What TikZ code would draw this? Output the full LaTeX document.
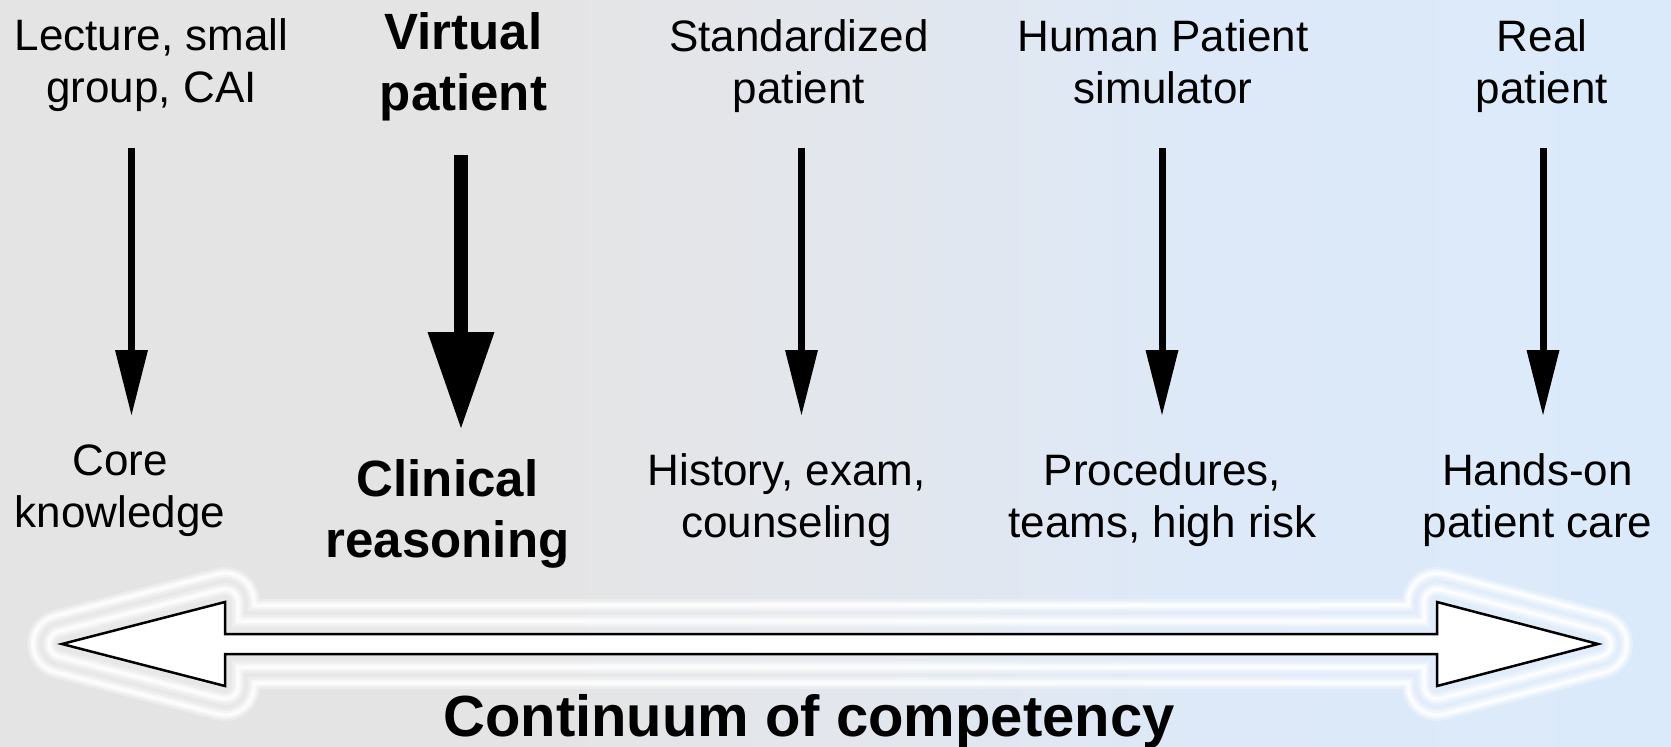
\documentclass[tikz,border=0pt]{standalone}
\usepackage{fontspec}
\setmainfont{Liberation Sans}
\usetikzlibrary{arrows.meta,calc}
\definecolor{bgL}{RGB}{228,228,228}
\definecolor{bgM}{RGB}{227,230,236}
\definecolor{bgN}{RGB}{221,233,248}
\definecolor{bgR}{RGB}{219,234,251}
% TikZ maps the range 25bp..75bp of a shading onto the filled path
\pgfdeclarehorizontalshading{bgshade}{100bp}{color(0bp)=(bgL); color(40bp)=(bgL); color(50bp)=(bgM); color(61bp)=(bgN); color(75bp)=(bgR); color(100bp)=(bgR)}
\newcommand\twolines[2]{\begin{tabular}[b]{@{}c@{}}#1\\#2\end{tabular}}
\tikzset{
  lab/.style={font=\fontsize{44}{52}\selectfont, anchor=base, inner sep=0pt},
  blab/.style={font=\fontsize{51}{61}\selectfont\bfseries, anchor=base, inner sep=0pt},
  thinarrow/.style={line width=7pt, -{Triangle[length=65pt,width=33pt,line width=0pt]}},
  thickarrow/.style={line width=14pt, -{Triangle[length=96pt,width=67pt,line width=0pt]}},
  ring/.style={insert path={
    (62,644) ++(255.55:#1) -- ($(225,602)+(255.55:#1)$)
    arc[start angle=255.55, end angle=360, radius=#1]
    -- (225+#1,634-#1) -- (1437-#1,634-#1) -- (1437-#1,602)
    arc[start angle=180, end angle=284.62, radius=#1]
    -- ($(1598,644)+(284.62:#1)$)
    arc[start angle=284.62, end angle=435.38, radius=#1]
    -- ($(1437,686)+(75.38:#1)$)
    arc[start angle=75.38, end angle=180, radius=#1]
    -- (1437-#1,654+#1) -- (225+#1,654+#1) -- (225+#1,686)
    arc[start angle=0, end angle=104.45, radius=#1]
    -- ($(62,644)+(104.45:#1)$)
    arc[start angle=104.45, end angle=255.55, radius=#1] -- cycle}},
  glowA/.style={draw=white, line width=12pt, opacity=0.3},
  glowB/.style={draw=white, line width=7pt, opacity=0.5},
  glowC/.style={draw=white, line width=3pt, opacity=0.75},
  bigarrow/.style={draw=black, line width=2.5pt, fill=white, line join=miter}
}
\begin{document}
\begin{tikzpicture}[x=1pt,y=-1pt]
\useasboundingbox (0,0) rectangle (1671,747);
\shade[shading=bgshade] (0,0) rectangle (1671,747);
% glow around the continuum arrow
\fill[white, opacity=0.18, ring=30];
\foreach \d in {13,29}{
  \path[glowA, ring=\d];
  \path[glowB, ring=\d];
  \path[glowC, ring=\d];
}
% continuum double arrow
\coordinate (tipL) at (62,644);
\coordinate (tipR) at (1598,644);
\path[bigarrow] (tipL) -- (225,602) -- (225,634) -- (1437,634) -- (1437,602)
  -- (tipR) -- (1437,686) -- (1437,654) -- (225,654) -- (225,686) -- cycle;
% vertical arrows
\coordinate (a1s) at (131.5,148); \coordinate (a1e) at (131.5,415);
\coordinate (a2s) at (461,155);   \coordinate (a2e) at (461,428);
\coordinate (a3s) at (801.5,148); \coordinate (a3e) at (801.5,415);
\coordinate (a4s) at (1162,148);  \coordinate (a4e) at (1162,415);
\coordinate (a5s) at (1543,148);  \coordinate (a5e) at (1543,415);
\draw[thinarrow] (a1s) -- (a1e);
\draw[thickarrow] (a2s) -- (a2e);
\draw[thinarrow] (a3s) -- (a3e);
\draw[thinarrow] (a4s) -- (a4e);
\draw[thinarrow] (a5s) -- (a5e);
% top labels
\node[lab]  (lec) at (151.5,102) {\twolines{Lecture, small}{group, CAI}};
\node[blab] (vp)  at (463.5,110) {\twolines{Virtual}{patient}};
\node[lab]  (sp)  at (799,103)   {\twolines{Standardized}{patient}};
\node[lab]  (hps) at (1163,103)  {\twolines{Human Patient}{simulator}};
\node[lab]  (rp)  at (1542,103)  {\twolines{Real}{patient}};
% bottom labels
\node[lab]  (ck)  at (120,527)    {\twolines{Core}{knowledge}};
\node[blab] (cr)  at (447.5,557)  {\twolines{Clinical}{reasoning}};
\node[lab]  (hx)  at (786.5,537)  {\twolines{History, exam,}{counseling}};
\node[lab]  (pr)  at (1162.5,537) {\twolines{Procedures,}{teams, high risk}};
\node[lab]  (ho)  at (1537.5,537) {\twolines{Hands-on}{patient care}};
\node[font=\fontsize{58}{70}\selectfont\bfseries, anchor=base, inner sep=0pt] (cc) at (809,736) {Continuum of competency};
\end{tikzpicture}
\end{document}
